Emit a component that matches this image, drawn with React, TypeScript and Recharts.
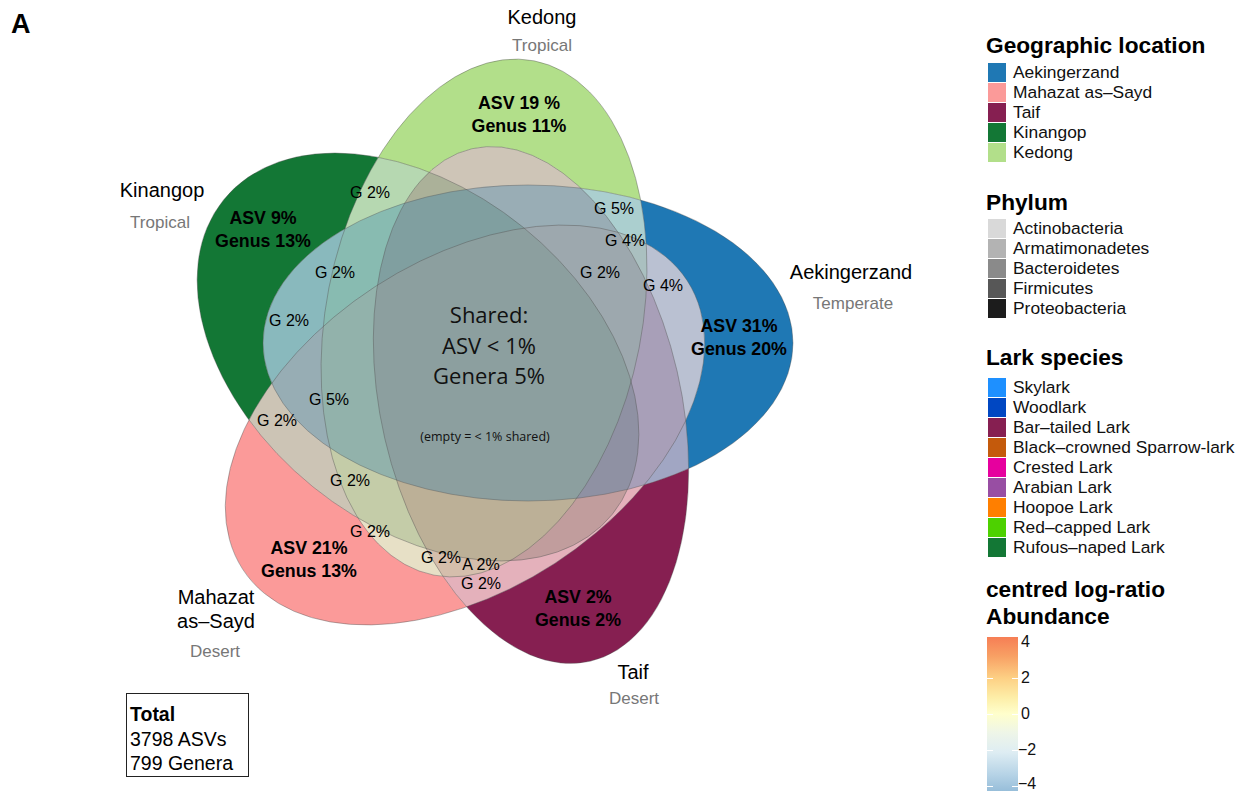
import React from "react";
import { ScatterChart, Scatter, XAxis, YAxis } from "recharts";

const W = 960;
const H = 791;
const PX = 1; // axis domains equal the plot size, so one data unit is one pixel
const HELV = "'Liberation Sans', Arial, Helvetica, sans-serif";
const MYRIAD = "'Open Sans', 'Noto Sans', sans-serif";

// the five sampling sites (legend order)
const sets = ["Aekingerzand", "Mahazat\nas–Sayd", "Taif", "Kinangop", "Kedong"];
const climates = ["Temperate", "Desert", "Desert", "Tropical", "Tropical"];
const setColors = ["#1f78b4", "#fb9a99", "#861f51", "#137735", "#b2df8a"];
const asvOnly = ["ASV 31%", "ASV 21%", "ASV 2%", "ASV 9%", "ASV 19 %"];
const genusOnly = [20, 13, 2, 13, 11];
// ellipses are stacked in this order so the blends come out right
const drawOrder = [3, 2, 1, 4, 0];

// shared regions
const overlapText = [
  "G 2%", "G 5%", "G 4%", "G 2%", "G 4%", "G 2%", "G 2%",
  "G 5%", "G 2%", "G 2%", "G 2%", "G 2%", "A 2%", "G 2%",
];
const sharedText = "Shared:\nASV < 1%\nGenera 5%";
const sharedNote = "(empty = < 1% shared)";
const totals = ["3798 ASVs", "799 Genera"];

// legends
const locationNames = ["Aekingerzand", "Mahazat as–Sayd", "Taif", "Kinangop", "Kedong"];
const phyla = ["Actinobacteria", "Armatimonadetes", "Bacteroidetes", "Firmicutes", "Proteobacteria"];
const phylumColors = ["#d9d9d9", "#b3b3b3", "#8a8a8a", "#575757", "#1c1c1c"];
const larks = [
  "Skylark", "Woodlark", "Bar–tailed Lark", "Black–crowned Sparrow-lark", "Crested Lark",
  "Arabian Lark", "Hoopoe Lark", "Red–capped Lark", "Rufous–naped Lark",
];
const larkColors = ["#1e90ff", "#0047c2", "#861f51", "#c45a0c", "#e6009e", "#984ea3", "#ff7f00", "#4dd100", "#137735"];
const clrTicks = [4, 2, 0, -2, -4];

// ellipse layout (centre, semi-axes, rotation in degrees), legend order
const ellipseLayout = [
  { x: 528, y: 343, rx: 265, ry: 158, rot: 0 },
  { x: 465, y: 425, rx: 265, ry: 165, rot: -33 },
  { x: 531, y: 405, rx: 150, ry: 263, rot: -13 },
  { x: 418, y: 357, rx: 250, ry: 167, rot: 39 },
  { x: 484, y: 318, rx: 158, ry: 262, rot: 11 },
];
const onlyAt = [[739, 337], [309, 559], [578, 608], [263, 229], [519, 114]];
const nameAt = [[851, 272], [216, 609], [633, 672], [162, 190], [542, 17]];
const climateAt = [[853, 303], [215, 651], [634, 698], [160, 222], [542, 45]];
const overlapAt = [
  [370, 192], [614, 208], [625, 240], [600, 272], [663, 285], [335, 272], [289, 320],
  [329, 399], [277, 420], [350, 480], [370, 531], [441, 557], [481, 564], [481, 583],
];

const ellipseData = drawOrder.map((i) => ({ ...ellipseLayout[i], i, color: setColors[i] }));

const EllipseFill = (p: any) => {
  const d = p.payload;
  return (
    <g>
      <defs>
        <ellipse
          id={`set-${d.i}`}
          cx={p.cx}
          cy={p.cy}
          rx={d.rx * PX}
          ry={d.ry * PX}
          transform={`rotate(${d.rot} ${p.cx} ${p.cy})`}
        />
      </defs>
      <use href={`#set-${d.i}`} fill={d.color} fillOpacity={0.3} />
    </g>
  );
};

// the part of each ellipse no other set covers is drawn solid
const EllipseOnly = (p: any) => {
  const d = p.payload;
  return (
    <g>
      <mask id={`only-${d.i}`} maskUnits="userSpaceOnUse" x={0} y={0} width={W} height={H}>
        <use href={`#set-${d.i}`} fill="#fff" />
        {ellipseData.map((o) =>
          o.i === d.i ? null : <use key={o.i} href={`#set-${o.i}`} fill="#000" />
        )}
      </mask>
      <use href={`#set-${d.i}`} fill={d.color} mask={`url(#only-${d.i})`} />
    </g>
  );
};

const EllipseEdge = (p: any) => (
  <use
    href={`#set-${p.payload.i}`}
    fill="none"
    stroke="#555"
    strokeOpacity={0.5}
    strokeWidth={0.8}
  />
);

const makeText =
  (size: number, opts: { weight?: string; color?: string; family?: string; lh?: number } = {}) =>
  (p: any) => {
    const lines: string[] = String(p.payload.text).split("\n");
    const lh = opts.lh ?? size * 1.3;
    const top = p.cy - ((lines.length - 1) * lh) / 2;
    return (
      <text
        textAnchor="middle"
        fontFamily={opts.family ?? HELV}
        fontSize={size}
        fontWeight={opts.weight ?? "normal"}
        fill={opts.color ?? "#000"}
      >
        {lines.map((t, k) => (
          <tspan key={k} x={p.cx} y={top + k * lh} dy="0.35em">
            {t}
          </tspan>
        ))}
      </text>
    );
  };

const onlyLabels = sets.map((_, i) => ({
  x: onlyAt[i][0],
  y: onlyAt[i][1],
  text: `${asvOnly[i]}\nGenus ${genusOnly[i]}%`,
}));
const nameLabels = sets.map((s, i) => ({ x: nameAt[i][0], y: nameAt[i][1], text: s }));
const climateLabels = climates.map((c, i) => ({ x: climateAt[i][0], y: climateAt[i][1], text: c }));
const overlapLabels = overlapText.map((t, i) => ({ x: overlapAt[i][0], y: overlapAt[i][1], text: t }));
const sharedLabel = [{ x: 489, y: 346, text: sharedText }];
const noteLabel = [{ x: 485, y: 437, text: sharedNote }];

const LegendBlock = ({
  title,
  names,
  colors,
  titleY,
  firstY,
}: {
  title: string;
  names: string[];
  colors: string[];
  titleY: number;
  firstY: number;
}) => (
  <>
    <div style={{ position: "absolute", left: 986, top: titleY - 14, fontWeight: "bold", fontSize: 22.7, lineHeight: "28px", color: "#000" }}>
      {title}
    </div>
    {names.map((n, i) => (
      <div
        key={n}
        style={{ position: "absolute", left: 988, top: firstY + i * 20 - 10, display: "flex", alignItems: "center", height: 20 }}
      >
        <div style={{ width: 18, height: 19, background: colors[i], marginRight: 7 }} />
        <span style={{ fontSize: 17.4, color: "#111", whiteSpace: "nowrap" }}>{n}</span>
      </div>
    ))}
  </>
);

const barTop = 637;
const tickY = (v: number) => 77 - 18 * v;

export default function App() {
  return (
    <div style={{ position: "absolute", left: 0, top: 0, width: 1246, height: 791, background: "#fff", fontFamily: HELV, overflow: "hidden" }}>
      <div style={{ position: "absolute", left: 11, top: 9, fontSize: 27, fontWeight: "bold" }}>A</div>

      <ScatterChart width={W} height={H} margin={{ top: 0, right: 0, bottom: 0, left: 0 }}>
        <XAxis type="number" dataKey="x" domain={[0, W]} allowDataOverflow hide height={0} />
        <YAxis type="number" dataKey="y" domain={[0, H]} allowDataOverflow reversed hide width={0} />
        <Scatter data={ellipseData} shape={EllipseFill} isAnimationActive={false} />
        <Scatter data={ellipseData} shape={EllipseOnly} isAnimationActive={false} />
        <Scatter data={ellipseData} shape={EllipseEdge} isAnimationActive={false} />
        <Scatter data={onlyLabels} shape={makeText(17.8, { weight: "bold", lh: 23 })} isAnimationActive={false} />
        <Scatter data={overlapLabels} shape={makeText(16)} isAnimationActive={false} />
        <Scatter data={nameLabels} shape={makeText(20, { lh: 24 })} isAnimationActive={false} />
        <Scatter data={climateLabels} shape={makeText(17, { color: "#777" })} isAnimationActive={false} />
        <Scatter data={sharedLabel} shape={makeText(22, { family: MYRIAD, lh: 30.5, color: "#111" })} isAnimationActive={false} />
        <Scatter data={noteLabel} shape={makeText(12.5, { family: MYRIAD, color: "#111" })} isAnimationActive={false} />
      </ScatterChart>

      <div
        style={{
          position: "absolute",
          left: 126,
          top: 693,
          width: 123,
          height: 84,
          border: "1px solid #222",
          fontSize: 19.5,
          lineHeight: "24.5px",
          paddingLeft: 3,
          paddingTop: 8,
          boxSizing: "border-box",
        }}
      >
        <div style={{ fontWeight: "bold" }}>Total</div>
        {totals.map((t) => (
          <div key={t}>{t}</div>
        ))}
      </div>

      <LegendBlock title="Geographic location" names={locationNames} colors={setColors} titleY={45} firstY={72} />
      <LegendBlock title="Phylum" names={phyla} colors={phylumColors} titleY={202} firstY={228} />
      <LegendBlock title="Lark species" names={larks} colors={larkColors} titleY={357} firstY={387} />

      <div style={{ position: "absolute", left: 986, top: 576, fontWeight: "bold", fontSize: 22.7, lineHeight: "27px" }}>
        centred log-ratio
        <br />
        Abundance
      </div>
      <div
        style={{
          position: "absolute",
          left: 987,
          top: barTop,
          width: 31,
          height: 160,
          background:
            "linear-gradient(to bottom, #f67e55 0%, #f8a064 12%, #fdd185 26%, #fdeea8 38%, #ffffcc 48%, #eef5e8 60%, #deedf3 72%, #b6d3e6 86%, #8cb6d5 100%)",
        }}
      >
        {clrTicks.slice(1).map((v) => (
          <React.Fragment key={v}>
            <div style={{ position: "absolute", left: 0, top: tickY(v) - 0.5, width: 6, height: 1.2, background: "#fff" }} />
            <div style={{ position: "absolute", right: 0, top: tickY(v) - 0.5, width: 6, height: 1.2, background: "#fff" }} />
          </React.Fragment>
        ))}
      </div>
      {clrTicks.map((v) => (
        <div
          key={v}
          style={{
            position: "absolute",
            left: v < 0 ? 1018 : 1021,
            top: barTop + tickY(v) - (v === -4 ? 11 : 9),
            fontSize: 16,
            lineHeight: "18px",
            color: "#111",
          }}
        >
          {v < 0 ? `−${-v}` : v}
        </div>
      ))}
    </div>
  );
}
